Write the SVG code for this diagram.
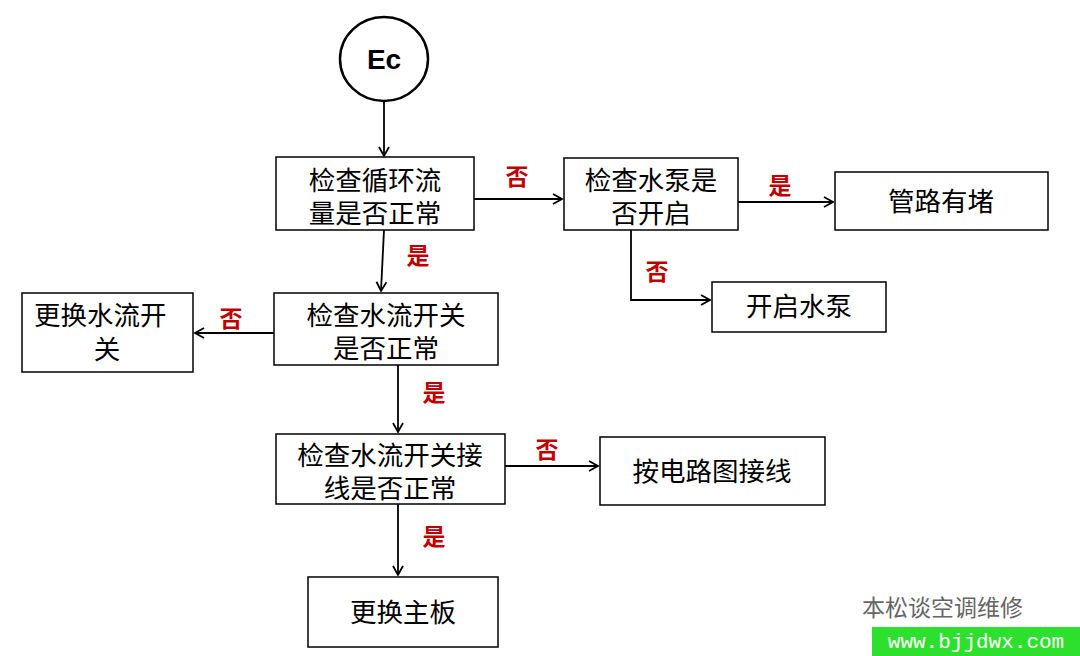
<svg xmlns="http://www.w3.org/2000/svg" width="1080" height="656" viewBox="0 0 1080 656">
<style>
.b{fill:#fff;stroke:#000;stroke-width:1.5}
.t{font-family:"Noto Sans CJK SC","Liberation Sans",sans-serif;font-size:26.5px;fill:#000;text-anchor:middle}
.l{font-family:"Noto Sans CJK SC","Liberation Sans",sans-serif;font-size:23px;font-weight:bold;fill:#c00000;text-anchor:middle}
.c line,.c path{stroke:#000;stroke-width:1.8;fill:none;marker-end:url(#a)}
</style>
<defs><marker id="a" markerWidth="12" markerHeight="12" refX="10" refY="6" orient="auto" markerUnits="userSpaceOnUse"><path d="M1,1 L10,6 L1,11" fill="none" stroke="#000" stroke-width="1.8"/></marker></defs>
<rect width="1080" height="656" fill="#fff"/>
<g id="ec"><ellipse cx="384" cy="59" rx="44" ry="42" class="b" style="stroke-width:2.5"/><text x="384" y="69" class="t" style="font-family:'Liberation Sans',sans-serif;font-weight:bold;font-size:28px">Ec</text></g>
<g id="n1"><rect x="276" y="157" width="198" height="73" class="b"/><text x="375" y="190" class="t">检查循环流</text><text x="375" y="223" class="t">量是否正常</text></g>
<g id="n2"><rect x="564" y="158" width="174" height="72" class="b"/><text x="651" y="190" class="t">检查水泵是</text><text x="651" y="223" class="t">否开启</text></g>
<g id="n3"><rect x="835" y="172" width="213" height="58" class="b"/><text x="941" y="211" class="t">管路有堵</text></g>
<g id="n4"><rect x="712" y="282" width="174" height="50" class="b"/><text x="799" y="316" class="t">开启水泵</text></g>
<g id="n5"><rect x="274" y="293" width="224" height="72" class="b"/><text x="386" y="325" class="t">检查水流开关</text><text x="386" y="358" class="t">是否正常</text></g>
<g id="n6"><rect x="22" y="293" width="171" height="79" class="b"/><text x="34" y="325" class="t" style="text-anchor:start">更换水流开</text><text x="107" y="359" class="t">关</text></g>
<g id="n7"><rect x="276" y="434" width="229" height="70" class="b"/><text x="390" y="465" class="t">检查水流开关接</text><text x="390" y="498" class="t">线是否正常</text></g>
<g id="n8"><rect x="600" y="437" width="225" height="68" class="b"/><text x="712" y="481" class="t">按电路图接线</text></g>
<g id="n9"><rect x="308" y="577" width="190" height="70" class="b"/><text x="403" y="622" class="t">更换主板</text></g>
<g class="c">
<line x1="384" y1="101" x2="384" y2="156"/>
<line x1="474" y1="199" x2="562" y2="199"/>
<line x1="738" y1="202" x2="833" y2="202"/>
<path d="M631,230 V300 H710"/>
<line x1="384" y1="230" x2="381" y2="291"/>
<line x1="274" y1="333" x2="195" y2="333"/>
<line x1="398" y1="365" x2="398" y2="432"/>
<line x1="505" y1="466" x2="598" y2="466"/>
<line x1="398" y1="504" x2="398" y2="575"/>
</g>
<g><text x="517" y="185" class="l">否</text><text x="780" y="194" class="l">是</text><text x="657" y="280" class="l">否</text><text x="418" y="264" class="l">是</text><text x="231" y="327" class="l">否</text><text x="434" y="401" class="l">是</text><text x="547" y="458" class="l">否</text><text x="434" y="545" class="l">是</text></g>
<g id="wm"><text x="862" y="616" style="font-family:'Noto Sans CJK SC',sans-serif;font-size:23px;fill:#666">本松谈空调维修</text>
<rect x="872" y="627" width="208" height="29" fill="#2ee02e"/><text x="976" y="648" style="font-family:'Liberation Mono',monospace;font-size:21px;fill:#fff;text-anchor:middle">www.bjjdwx.com</text></g>
</svg>
